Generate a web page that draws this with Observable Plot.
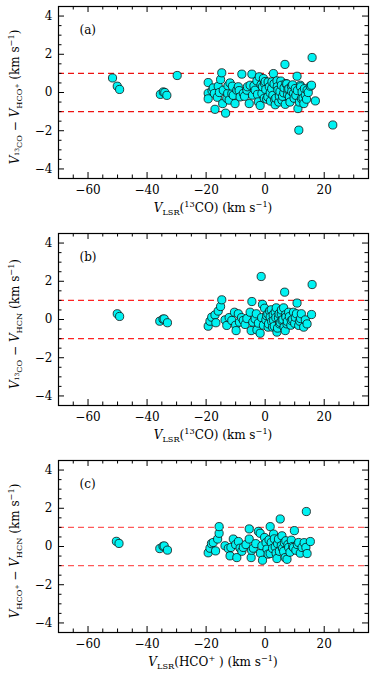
<!DOCTYPE html>
<html><head><meta charset="utf-8">
<script src="https://cdn.jsdelivr.net/npm/d3@7"></script>
<script src="https://cdn.jsdelivr.net/npm/@observablehq/plot@0.6"></script>
<style>
body{margin:0;background:#fff;}
svg{display:block;}
</style></head><body><div id="chart"></div>
<script>
// tick values
const xMajor = [-60, -40, -20, 0, 20];
const xMinor = [-65, -55, -50, -45, -35, -30, -25, -15, -10, -5, 5, 10, 15, 25, 30];
const yMajor = [-4, -2, 0, 2, 4];
const yMinor = [-3.5, -3, -2.5, -1.5, -1, -0.5, 0.5, 1, 1.5, 2.5, 3, 3.5];
const refLines = [-1, 1];
const tags = ["(a)", "(b)", "(c)"];

// panel (a): V_LSR(13CO) vs V(13CO) - V(HCO+)
const aPts = [[-51.7,0.76],[-50.1,0.33],[-49.3,0.16],[-35.5,-0.10],[-34.5,0.03],[-34.0,0.00],[-33.3,-0.15],[-29.8,0.89],
[-19.3,0.52],[-19.3,-0.04],[-19.3,-0.33],[-18.0,0.10],[-17.6,0.24],[-17.2,-0.05],[-17.0,-0.88],[-16.2,-0.25],[-15.9,0.33],[-15.5,0.00],[-15.1,0.68],[-14.7,1.03],[-14.4,-0.58],[-14.2,0.12],[-13.4,-1.08],[-13.0,-0.30],[-12.7,-0.05],[-12.6,0.35],[-12.2,-0.40],[-11.9,0.50],[-11.3,-0.06],[-11.1,0.33],[-10.8,-0.15],[-10.2,-0.58],[-9.6,0.12],[-9.1,0.30],[-8.8,0.10],[-8.5,-0.23],[-7.9,0.96],[-7.4,-0.05],[-7.0,-0.20],[-6.2,0.12],[-6.0,0.30],[-5.4,-0.58],[-5.1,0.38],[-4.5,0.96],[-4.3,-0.14],[-3.8,0.35],[-3.4,0.12],[-2.8,0.61],[-2.6,-0.10],[-2.3,-0.49],[-2.0,0.82],[-1.7,-0.68],[-1.4,0.40],[-1.1,-0.05],[-0.9,0.30],[-0.6,0.73],[-0.3,-0.30],[-0.2,0.47],[0.0,0.57],[0.2,0.16],[0.5,-0.35],[0.9,-0.23],[1.0,0.55],[1.4,0.30],[1.7,-0.02],[1.8,-0.45],[2.2,0.20],[2.3,0.56],[2.6,-0.15],[2.8,0.99],[3.0,0.45],[3.2,-0.37],[3.4,-0.64],[3.6,-0.30],[4.0,0.61],[4.1,0.30],[4.3,0.12],[4.6,-0.50],[4.8,-0.19],[5.0,0.05],[5.3,0.60],[5.5,0.38],[5.7,-0.40],[5.9,-0.20],[6.3,-0.02],[6.4,0.25],[6.7,1.47],[6.8,-0.62],[7.0,0.47],[7.3,0.45],[7.6,-0.10],[7.7,0.16],[8.0,0.20],[8.2,-0.23],[8.4,-0.50],[8.9,0.33],[9.0,0.05],[9.3,0.40],[9.6,-0.05],[9.8,-0.30],[10.2,0.21],[10.4,-0.15],[10.8,0.85],[10.9,0.10],[11.1,-0.84],[11.4,-1.97],[11.6,-0.50],[11.9,0.38],[12.0,0.30],[12.3,-0.32],[12.5,0.03],[12.8,-0.30],[13.1,-0.58],[13.3,0.20],[13.6,-0.14],[14.0,-0.35],[14.2,0.12],[14.6,0.00],[15.3,0.33],[15.7,0.38],[15.9,1.83],[17.0,-0.44],[22.9,-1.70]];

// panel (b): V_LSR(13CO) vs V(13CO) - V(HCN)
const bPts = [[-50.1,0.30],[-49.3,0.16],[-35.7,-0.09],[-34.6,0.02],[-34.2,0.03],[-33.1,-0.17],
[-19.3,-0.35],[-18.7,-0.09],[-18.1,0.12],[-17.0,0.24],[-16.7,-0.17],[-15.9,0.44],[-15.1,0.68],[-14.7,1.03],[-13.6,-0.02],[-13.0,-0.31],[-12.2,0.10],[-11.3,-0.05],[-10.4,0.38],[-10.0,-0.30],[-9.85,-0.58],[-9.1,0.30],[-8.7,-0.14],[-8.0,0.10],[-7.4,-0.05],[-6.8,-0.26],[-6.2,0.05],[-5.1,0.38],[-4.75,-0.58],[-4.5,0.94],[-4.2,-0.14],[-3.4,0.03],[-3.0,0.30],[-2.8,-0.54],[-2.3,-0.19],[-1.7,-0.72],[-1.35,2.25],[-1.2,0.10],[-0.9,0.79],[-0.6,-0.30],[-0.2,0.59],[0.24,-0.02],[0.5,0.20],[0.9,0.30],[1.0,-0.40],[1.14,-0.23],[1.5,0.45],[1.7,0.12],[2.05,0.51],[2.2,-0.10],[2.5,-0.40],[2.7,0.25],[2.84,-0.05],[3.1,-0.35],[3.4,0.38],[3.6,0.10],[3.75,0.61],[3.98,-0.66],[4.2,-0.45],[4.5,0.09],[4.7,0.30],[4.9,-0.23],[5.1,-0.15],[5.45,0.30],[5.5,0.50],[5.68,-0.05],[6.0,0.00],[6.25,0.61],[6.4,-0.40],[6.6,1.43],[6.8,-0.58],[6.9,0.25],[7.0,0.12],[7.4,-0.23],[7.5,-0.10],[7.95,0.38],[8.2,0.15],[8.7,-0.30],[8.85,-0.05],[9.3,0.00],[9.6,0.38],[10.0,-0.20],[10.2,0.12],[10.6,0.30],[10.8,0.86],[11.35,-0.31],[11.7,-0.09],[12.0,0.05],[12.25,0.30],[13.05,-0.40],[13.6,-0.02],[14.2,-0.23],[15.7,0.26],[15.9,1.83]];

// panel (c): V_LSR(HCO+) vs V(HCO+) - V(HCN)
const cPts = [[-50.4,0.27],[-49.5,0.16],[-35.7,-0.11],[-34.6,0.01],[-34.2,0.03],[-33.1,-0.19],
[-19.3,-0.33],[-18.7,-0.09],[-18.2,0.15],[-17.6,0.21],[-16.8,-0.23],[-16.1,0.39],[-15.6,0.69],[-15.6,1.04],[-13.6,0.04],[-12.5,-0.10],[-11.9,-0.49],[-11.6,-0.05],[-10.8,0.39],[-10.0,0.10],[-9.6,-0.58],[-9.06,0.26],[-8.5,-0.09],[-7.9,-0.25],[-7.4,-0.05],[-6.5,0.10],[-5.4,0.92],[-5.4,0.39],[-4.75,-0.58],[-4.6,-0.20],[-4.0,-0.09],[-3.2,0.15],[-2.3,0.79],[-1.7,0.69],[-1.6,-0.35],[-1.1,0.04],[-0.9,-0.72],[-0.2,0.47],[0.3,0.20],[0.6,-0.14],[1.0,-0.40],[1.3,0.35],[1.7,1.04],[1.7,-0.37],[2.05,0.21],[2.5,-0.10],[2.84,0.65],[3.1,0.40],[3.4,-0.02],[3.7,-0.35],[3.98,-0.63],[4.2,0.15],[4.5,0.39],[4.8,-0.25],[5.1,1.44],[5.45,0.04],[5.68,0.56],[5.9,-0.10],[6.25,-0.26],[6.5,0.20],[6.8,-0.58],[7.0,0.30],[7.4,-0.67],[7.7,0.10],[7.95,-0.05],[8.4,-0.30],[8.85,0.33],[9.3,0.00],[9.6,-0.05],[9.9,0.83],[10.4,-0.20],[10.9,0.10],[11.35,0.21],[11.9,-0.35],[12.5,-0.05],[13.2,0.20],[13.8,-0.05],[14.2,-0.37],[13.95,1.83],[15.3,0.26]];

// axis label rich-text parts: [text, kind]  kind: "i" italic, "" normal, "sub", "sup", "subsup"
const xLabelA = [["V","i"],["LSR","sub"],["(",""],["13","sup"],["CO) (km s",""],["−1","sup"],[")",""]];
const xLabelC = [["V","i"],["LSR","sub"],["(HCO",""],["+","sup"],[" ) (km s",""],["−1","sup"],[")",""]];
const yLabelA = [["V","i"],["13","subsup"],["CO","sub"],[" − ",""],["V","i"],["HCO","sub"],["+","subsup"],[" (km s",""],["−1","sup"],[")",""]];
const yLabelB = [["V","i"],["13","subsup"],["CO","sub"],[" − ",""],["V","i"],["HCN","sub"],[" (km s",""],["−1","sup"],[")",""]];
const yLabelC = [["V","i"],["HCO","sub"],["+","subsup"],[" − ",""],["V","i"],["HCN","sub"],[" (km s",""],["−1","sup"],[")",""]];

const FONT = "DejaVu Serif";
const fmt = d => d < 0 ? "\u2212" + Math.abs(d) : String(d);

function rich(textSel, parts){
  const spec = {"i":[0,12,"italic"], "":[0,12,"normal"], "sub":[2.8,8.2,"normal"], "sup":[-4.8,8.2,"normal"], "subsup":[0,6,"normal"]};
  let cur = 0;
  for (const [t,k] of parts){
    const [off,size,style] = spec[k];
    textSel.append("tspan").attr("dy", off - cur).attr("font-size", size).attr("font-style", style).text(t);
    cur = off;
  }
}

function panel(pts, tag, xParts, yParts, dashColor){
  const W = 310, H = 172;
  const data = pts.map(([x,y]) => ({x, y}));
  const p = Plot.plot({
    width: 374, height: 227, marginTop: 6, marginBottom: 49, marginLeft: 58, marginRight: 6,
    style: {fontFamily: FONT, fontSize: "12px", color: "black", background: "white", overflow: "visible"},
    x: {domain: [-70, 35]},
    y: {domain: [-4.5, 4.5]},
    marks: [
      Plot.ruleY(refLines, {stroke: dashColor, strokeWidth: 1.3, strokeDasharray: "6,4"}),
      Plot.dot(data, {x: "x", y: "y", r: 4.1, fill: "#00f2f2", stroke: "#111", strokeWidth: 0.8}),
      Plot.ruleX(xMajor, {insetTop: H - 6, stroke: "black"}),
      Plot.ruleX(xMajor, {insetBottom: H - 6, stroke: "black"}),
      Plot.ruleX(xMinor, {insetTop: H - 3.5, stroke: "black"}),
      Plot.ruleX(xMinor, {insetBottom: H - 3.5, stroke: "black"}),
      Plot.ruleY(yMajor, {insetRight: W - 6, stroke: "black"}),
      Plot.ruleY(yMajor, {insetLeft: W - 6, stroke: "black"}),
      Plot.ruleY(yMinor, {insetRight: W - 3.5, stroke: "black"}),
      Plot.ruleY(yMinor, {insetLeft: W - 3.5, stroke: "black"}),
      Plot.frame({stroke: "black", strokeWidth: 1.2}),
      Plot.axisX(xMajor, {tickSize: 0, tickPadding: 7, label: null, tickFormat: fmt, fontSize: 12}),
      Plot.axisY(yMajor, {tickSize: 0, tickPadding: 6, label: null, tickFormat: fmt, fontSize: 12}),
      Plot.text([tag], {frameAnchor: "top-left", dx: 21, dy: 19, textAnchor: "start", fontSize: 12})
    ]
  });
  const svg = d3.select(p);
  const xl = svg.append("text").attr("x", 213).attr("y", 212).attr("text-anchor", "middle")
    .attr("font-family", FONT).attr("font-size", 12).attr("fill", "black");
  rich(xl, xParts);
  const yl = svg.append("text").attr("transform", "translate(19,97) rotate(-90)").attr("text-anchor", "middle")
    .attr("font-family", FONT).attr("font-size", 12).attr("fill", "black");
  rich(yl, yParts);
  return p;
}

const root = document.getElementById("chart");
root.appendChild(panel(aPts, tags[0], xLabelA, yLabelA, "#ee1111"));
root.appendChild(panel(bPts, tags[1], xLabelA, yLabelB, "#ff2222"));
root.appendChild(panel(cPts, tags[2], xLabelC, yLabelC, "#ff5a5a"));
</script>
</body></html>
